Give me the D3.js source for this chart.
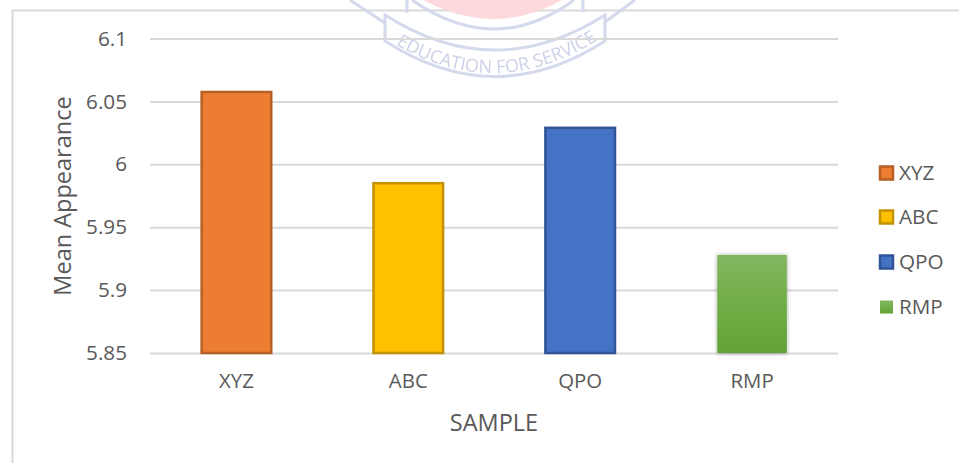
<!DOCTYPE html>
<html><head><meta charset="utf-8">
<script src="https://cdn.jsdelivr.net/npm/d3@7/dist/d3.min.js"></script>
<style>html,body{margin:0;padding:0;background:#fff}svg{display:block}text{font-family:"Open Sans","Noto Sans",sans-serif;fill:#595959}</style>
</head><body><svg id="c" width="959" height="463"></svg>
<script>
const categories = ["XYZ","ABC","QPO","RMP"];
const values = [6.0575,5.985,6.029,5.928];
const fills = ["#ed7d31","#ffc000","#4472c4","#70ad47"];
const strokes = ["#b85f26","#c29200","#2f5597","none"];
const yTicks = [5.85,5.9,5.95,6,6.05,6.1];
const yLabels = ["5.85","5.9","5.95","6","6.05","6.1"];
const svg = d3.select("#c");
const defs = svg.append("defs");
const g = defs.append("linearGradient").attr("id","green").attr("x1",0).attr("x2",0).attr("y1",0).attr("y2",1);
g.append("stop").attr("offset","0").attr("stop-color","#82b761");
g.append("stop").attr("offset","0.5").attr("stop-color","#71ae47");
g.append("stop").attr("offset","1").attr("stop-color","#62a236");
const f = defs.append("filter").attr("id","sh").attr("x","-20%").attr("y","-10%").attr("width","140%").attr("height","120%");
f.append("feDropShadow").attr("dx",0).attr("dy",0.5).attr("stdDeviation",2).attr("flood-color","#000").attr("flood-opacity",0.35);
defs.append("filter").attr("id","soft").append("feGaussianBlur").attr("stdDeviation",0.6);
defs.append("clipPath").attr("id","wm").append("rect").attr("x",300).attr("y",0).attr("width",340).attr("height",79);
defs.append("path").attr("id","arc").attr("d","M395,44 Q495,104 598,40");

// frame
svg.append("path").attr("d","M12.5,463V10.5H959").attr("fill","none").attr("stroke","#d9d9d9").attr("stroke-width",2);

// faint watermark
const wmOuter = svg.append("g").attr("clip-path","url(#wm)");
const wm = wmOuter.append("g").attr("filter","url(#soft)").attr("fill","none").attr("stroke","#d5d9ec").attr("stroke-width",3);
wm.append("path").attr("d","M423,0 Q495,38 562,0 Z").attr("fill","#fbd9dc").attr("stroke","none");
wm.append("path").attr("d","M412,0 Q495,58 574,0");
wm.append("path").attr("d","M385,15 L385,41 Q495,112 605,41 L605,15 Q495,85 385,15 Z");
wm.append("path").attr("d","M350,0 L385,23 M635,0 L605,22 M407,13 L407,0 M583,12 L583,0");
wm.append("text").style("fill","#ccd1e8").attr("stroke","none").attr("font-size",18)
  .append("textPath").attr("href","#arc").attr("startOffset","50%").attr("text-anchor","middle").text("EDUCATION FOR SERVICE");

const y = d3.scaleLinear().domain([5.85,6.1]).range([353,38.5]);
const x = d3.scaleBand().domain(categories).range([150.5,838]).paddingInner(0.595).paddingOuter(0.2975);

// y axis
const ya = svg.append("g").attr("transform","translate(150,0)").call(d3.axisLeft(y).tickValues(yTicks).tickFormat((d,i)=>yLabels[i]).tickSize(0).tickPadding(23));
ya.select(".domain").remove();
ya.selectAll("text").attr("font-size",20.7).style("fill","#595959");
ya.selectAll(".tick line").attr("x2",688).attr("stroke","#d9d9d9").attr("stroke-width",2);

// bars
svg.append("g").selectAll("rect").data(categories).join("rect")
  .attr("x",d=>x(d)).attr("width",x.bandwidth())
  .attr("y",(d,i)=>y(values[i])).attr("height",(d,i)=>y(5.85)-y(values[i]))
  .attr("fill",(d,i)=>i===3?"url(#green)":fills[i])
  .attr("stroke",(d,i)=>strokes[i]).attr("stroke-width",2.5)
  .attr("filter",(d,i)=>i===3?"url(#sh)":null);

// x axis
const xa = svg.append("g").attr("transform","translate(0,353)").call(d3.axisBottom(x).tickSize(0).tickPadding(21));
xa.select(".domain").remove();
xa.selectAll("text").attr("font-size",20.4).style("fill","#595959");

// axis titles
svg.append("text").attr("x",494).attr("y",431).attr("text-anchor","middle").attr("font-size",23.5).text("SAMPLE");
svg.append("text").attr("transform","translate(71,196) rotate(-90)").attr("text-anchor","middle").attr("font-size",23.5).text("Mean Appearance");

// legend
const legendY = [173,217,262,307];
const lg = svg.append("g").selectAll("g").data(categories).join("g").attr("transform",(d,i)=>`translate(880,${legendY[i]})`);
lg.append("rect").attr("y",-6.5).attr("width",13).attr("height",13)
  .attr("fill",(d,i)=>i===3?"url(#green)":fills[i]).attr("stroke",(d,i)=>strokes[i]).attr("stroke-width",2.5);
lg.append("text").attr("x",19).attr("dy","0.35em").attr("font-size",20.7).text(d=>d);
</script></body></html>
